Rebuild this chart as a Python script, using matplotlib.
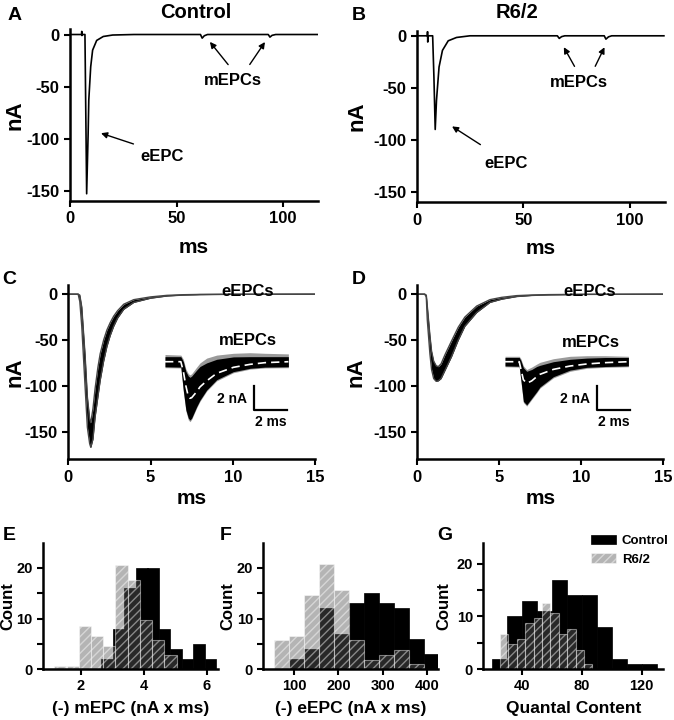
import matplotlib
matplotlib.use("Agg")
import matplotlib.pyplot as plt
from matplotlib.patches import Patch

plt.rcParams['font.family'] = ['Liberation Sans', 'DejaVu Sans']
plt.rcParams['font.weight'] = 'bold'
plt.rcParams['axes.labelweight'] = 'bold'
plt.rcParams['axes.unicode_minus'] = False
plt.rcParams['hatch.linewidth'] = 1.0

# A / B: single sweeps (ms, nA)
ctrl_sweep_t = [0, 5.4, 5.5, 5.6, 5.7, 7.0, 7.5, 7.8, 8.5, 8.8, 9.7, 10.6, 12.5, 15.6, 20, 30,
                61.2, 62.0, 63.0, 64.5, 93.0, 93.8, 94.8, 96.5, 116]
ctrl_sweep_i = [0, 0, 3, -1, 0, 0, -95, -153, -95, -63, -31, -15, -5.7, -1.9, -0.5, 0,
                0, -3.5, -1.2, 0, 0, -2.5, -0.8, 0, 0]
r62_sweep_t = [0, 5.0, 5.1, 5.2, 5.3, 7.5, 8.1, 8.7, 9.3, 10.5, 12.1, 14.8, 18.7, 25,
               66.0, 66.9, 68.0, 69.5, 88.0, 88.8, 90.0, 91.5, 116]
r62_sweep_i = [0, 0, 4, -6, 0, 0, -40, -90, -62, -30, -14, -4.8, -1.6, 0,
               0, -2.5, -0.8, 0, 0, -3.2, -1.0, 0, 0]

# C / D: overlaid eEPCs, envelope of the traces (ms, nA)
ctrl_eepc_t = [0, 0.6, 0.7, 0.82, 1.02, 1.16, 1.3, 1.37, 1.5, 1.63, 1.8, 1.94, 2.15, 2.35,
               2.55, 2.76, 3.0, 3.37, 3.98, 5.0, 6.0, 7.0, 8.0, 10.0, 15.0]
ctrl_eepc_lo = [0, 0, -8, -35, -100, -145, -163, -167, -158, -134, -112, -94, -73, -57,
                -45, -35, -26, -16.5, -9, -4.4, -2, -1, -0.5, -0.2, 0]
ctrl_eepc_hi = [0, 0, -1, -14, -66, -112, -136, -140, -125, -103, -80, -65, -50, -39,
                -31, -24, -18, -11, -6, -3.0, -1.3, -0.6, -0.3, -0.1, 0]
r62_eepc_t = [0, 0.45, 0.55, 0.61, 0.77, 0.87, 1.0, 1.15, 1.28, 1.45, 1.69, 2.09, 2.5, 2.9,
              3.62, 4.43, 5.14, 6.06, 7.0, 8.0, 10.0, 15.0]
r62_eepc_lo = [0, 0, -3, -28, -65, -82, -92, -95, -94.5, -92, -83, -68, -50, -35,
               -20, -9, -5.5, -2.6, -1.4, -0.8, -0.3, 0]
r62_eepc_hi = [0, 0, -1, -13, -45, -62, -73, -78, -79, -76, -66, -51, -36, -25,
               -13, -6, -3.5, -1.6, -0.9, -0.5, -0.2, 0]

# insets: overlaid mEPCs (ms, nA)
ctrl_mepc_t = [0, 0.95, 1.1, 1.25, 1.4, 1.5, 1.6, 1.9, 2.1, 2.5, 3.1, 4.1, 5.1, 6.0, 7.4]
ctrl_mepc_mean = [0, 0, -0.8, -2.0, -2.9, -3.05, -3.0, -2.5, -2.1, -1.6, -0.97, -0.47, -0.22, -0.08, 0]
ctrl_mepc_lo = [-0.42, -0.45, -2.4, -4.0, -4.7, -4.86, -4.7, -3.75, -3.2, -2.36, -1.5, -0.83, -0.55, -0.45, -0.42]
ctrl_mepc_hi = [0.42, 0.42, 0.0, -0.8, -1.2, -1.3, -1.2, -0.7, -0.4, -0.1, 0.2, 0.4, 0.42, 0.42, 0.42]
ctrl_mepc_glo = [-0.5, -0.52, -2.5, -4.1, -4.85, -5.0, -4.8, -3.85, -3.3, -2.45, -1.6, -0.92, -0.62, -0.52, -0.5]
ctrl_mepc_ghi = [0.6, 0.55, 0.2, -0.6, -1.0, -1.1, -1.0, -0.45, -0.1, 0.3, 0.55, 0.7, 0.75, 0.7, 0.65]

r62_mepc_t = [0, 0.85, 0.95, 1.1, 1.3, 1.6, 1.9, 2.1, 2.9, 3.9, 4.9, 6.0, 7.4]
r62_mepc_mean = [0, 0, -0.6, -1.5, -1.8, -1.6, -1.25, -1.05, -0.64, -0.36, -0.19, -0.08, 0]
r62_mepc_lo = [-0.35, -0.38, -1.5, -3.3, -3.6, -3.05, -2.5, -2.1, -1.25, -0.7, -0.47, -0.4, -0.35]
r62_mepc_hi = [0.35, 0.35, 0.1, -0.5, -0.8, -0.65, -0.4, -0.3, 0.0, 0.2, 0.3, 0.35, 0.35]
r62_mepc_glo = [-0.42, -0.45, -1.6, -3.4, -3.7, -3.15, -2.6, -2.2, -1.35, -0.8, -0.55, -0.47, -0.42]
r62_mepc_ghi = [0.45, 0.45, 0.25, -0.35, -0.65, -0.45, -0.2, -0.05, 0.25, 0.45, 0.5, 0.5, 0.45]

# E: mEPC charge histograms (bin left edge, count)
e_ctrl_left = [2.65, 3.02, 3.38, 3.75, 4.11, 4.47, 4.84, 5.20, 5.56, 5.93]
e_ctrl_count = [2, 8, 16, 20, 20, 8, 4, 2, 5, 2]
e_r62_left = [1.15, 1.54, 1.93, 2.32, 2.70, 3.09, 3.48, 3.87, 4.26, 4.65]
e_r62_count = [0.5, 0.5, 8.6, 6.6, 4.6, 20.6, 17.6, 9.7, 5.7, 2.7]

# F: eEPC charge histograms
f_left = [55, 88.8, 122.6, 156.4, 190.2, 224, 257.8, 291.6, 325.4, 359.2, 393]
f_ctrl_count = [0, 2, 4, 12, 7, 13, 15, 13, 12, 6, 3]
f_r62_count = [5.7, 6.6, 14.7, 20.7, 15.6, 5.8, 1.8, 2.7, 3.8, 0.9, 0]

# G: quantal content histograms
g_ctrl_left = [20, 30, 40, 50, 60, 70, 80, 90, 100, 110, 120]
g_ctrl_count = [2, 10, 13, 11, 17, 14, 14, 8, 2, 1, 1]
g_r62_left = [25.5, 31.1, 36.7, 42.3, 47.9, 53.5, 59.1, 64.7, 70.3, 75.9, 81.5]
g_r62_count = [6.6, 4.7, 5.7, 8.7, 9.7, 12.6, 10.7, 6.7, 7.7, 3.7, 0.9]

R62_STYLE = dict(facecolor='#595959', edgecolor='white', hatch='////', alpha=0.45, linewidth=0.8)
CTRL_STYLE = dict(facecolor='black', edgecolor='black', linewidth=0.5)


def style_axes(ax, fs):
    for s in ['top', 'right']:
        ax.spines[s].set_visible(False)
    for s in ['left', 'bottom']:
        ax.spines[s].set_linewidth(1.8)
    ax.tick_params(direction='out', length=4, width=1.5, labelsize=fs)
    for lab in ax.get_xticklabels() + ax.get_yticklabels():
        lab.set_fontweight('bold')


def sweep_panel(fig, rect, t, i, ylab_x):
    ax = fig.add_axes(rect)
    ax.plot(t, i, color='black', lw=1.2)
    ax.set_xlim(0, 116.5)
    ax.set_ylim(-160, 5)
    ax.set_xticks([0, 50, 100])
    ax.set_yticks([0, -50, -100, -150])
    style_axes(ax, 12)
    ax.set_ylabel('nA', fontsize=16)
    ax.yaxis.set_label_coords(ylab_x, 0.5)
    ax.set_xlabel('ms', fontsize=15)
    ax.xaxis.set_label_coords(0.5, -0.215)
    return ax


def overlay_panel(fig, rect, t, lo, hi, ylab_x):
    ax = fig.add_axes(rect)
    ax.fill_between(t, lo, hi, color='black', lw=0)
    ax.plot(t, lo, color='#444444', lw=1.0)
    ax.plot(t, hi, color='#444444', lw=1.0)
    ax.set_xlim(0, 15)
    ax.set_ylim(-180, 10)
    ax.set_xticks([0, 5, 10, 15])
    ax.set_yticks([0, -50, -100, -150])
    style_axes(ax, 12)
    ax.set_ylabel('nA', fontsize=16)
    ax.yaxis.set_label_coords(ylab_x, 0.5)
    ax.set_xlabel('ms', fontsize=15)
    ax.xaxis.set_label_coords(0.5, -0.17)
    return ax


def mepc_inset(fig, rect, t, mean, lo, hi, glo, ghi, bar_x):
    ax = fig.add_axes(rect)
    ax.fill_between(t, glo, ghi, color='#9a9a9a', lw=0)
    ax.fill_between(t, lo, hi, color='black', lw=0)
    ax.plot(t, mean, color='white', lw=1.2, dashes=(5, 3))
    ax.plot([bar_x, bar_x, bar_x + 2], [-2, -4, -4], color='black', lw=1.6)
    ax.text(bar_x - 0.4, -3.1, '2 nA', ha='right', va='center', fontsize=10)
    ax.text(bar_x + 1.0, -4.4, '2 ms', ha='center', va='top', fontsize=10)
    ax.set_xlim(0, 7.6)
    ax.set_ylim(-5.6, 1.0)
    ax.axis('off')
    return ax


def hist_panel(fig, rect, ctrl_left, ctrl_w, ctrl_count, r_left, r_w, r_count, xlim, ylim, xticks, xlab):
    ax = fig.add_axes(rect)
    ax.bar(ctrl_left, ctrl_count, width=ctrl_w, align='edge', **CTRL_STYLE)
    ax.bar(r_left, r_count, width=r_w, align='edge', **R62_STYLE)
    ax.set_xlim(*xlim)
    ax.set_ylim(*ylim)
    ax.set_xticks(xticks)
    ax.set_yticks([0, 10, 20])
    ax.set_yticks([5, 15], minor=True)
    style_axes(ax, 10.5)
    ax.tick_params(which='minor', direction='out', length=4, width=1.5)
    ax.set_ylabel('Count', fontsize=12)
    ax.set_xlabel(xlab, fontsize=12.5)
    ax.xaxis.set_label_coords(0.5, -0.25)
    return ax


def plot():
    fig = plt.figure(figsize=(6.74, 7.2), dpi=100)

    # A / B
    axA = sweep_panel(fig, [0.1039, 0.7208, 0.3684, 0.2385], ctrl_sweep_t, ctrl_sweep_i, -0.18)
    axB = sweep_panel(fig, [0.6182, 0.7190, 0.3684, 0.2385], r62_sweep_t, r62_sweep_i, -0.20)
    axA.annotate('', xy=(13.3, -94), xytext=(31, -106),
                 arrowprops=dict(arrowstyle='-|>', color='black', lw=1.0, mutation_scale=9))
    axA.text(43, -117, 'eEPC', ha='center', va='center', fontsize=12)
    axA.text(76.6, -44, 'mEPCs', ha='center', va='center', fontsize=12)
    for head, tail in [((64.8, -5), (75, -31)), ((92.2, -5), (83.6, -31))]:
        axA.annotate('', xy=head, xytext=tail,
                     arrowprops=dict(arrowstyle='-|>', color='black', lw=1.0, mutation_scale=9))
    axB.annotate('', xy=(15.5, -85.6), xytext=(31, -106),
                 arrowprops=dict(arrowstyle='-|>', color='black', lw=1.0, mutation_scale=9))
    axB.text(42, -122.7, 'eEPC', ha='center', va='center', fontsize=12)
    axB.text(76.2, -44.4, 'mEPCs', ha='center', va='center', fontsize=12)
    for head, tail in [((68.4, -8.6), (74.7, -31.7)), ((88.7, -8.6), (83.2, -31.7))]:
        axB.annotate('', xy=head, xytext=tail,
                     arrowprops=dict(arrowstyle='-|>', color='black', lw=1.0, mutation_scale=9))
    fig.text(0.291, 0.983, 'Control', ha='center', va='center', fontsize=14.5)
    fig.text(0.767, 0.983, 'R6/2', ha='center', va='center', fontsize=14.5)

    # C / D
    axC = overlay_panel(fig, [0.1013, 0.3621, 0.3660, 0.2421], ctrl_eepc_t, ctrl_eepc_lo, ctrl_eepc_hi, -0.175)
    axD = overlay_panel(fig, [0.6191, 0.3621, 0.3650, 0.2421], r62_eepc_t, r62_eepc_lo, r62_eepc_hi, -0.205)
    axC.text(10.9, 3, 'eEPCs', ha='center', va='center', fontsize=12)
    axC.text(10.9, -50.5, 'mEPCs', ha='center', va='center', fontsize=12)
    axD.text(10.5, 3, 'eEPCs', ha='center', va='center', fontsize=12)
    axD.text(10.6, -53, 'mEPCs', ha='center', va='center', fontsize=12)
    mepc_inset(fig, [0.2448, 0.4043, 0.188, 0.11], ctrl_mepc_t, ctrl_mepc_mean, ctrl_mepc_lo,
               ctrl_mepc_hi, ctrl_mepc_glo, ctrl_mepc_ghi, 5.34)
    mepc_inset(fig, [0.7493, 0.4043, 0.188, 0.11], r62_mepc_t, r62_mepc_mean, r62_mepc_lo,
               r62_mepc_hi, r62_mepc_glo, r62_mepc_ghi, 5.5)

    # E / F / G
    axE = hist_panel(fig, [0.0642, 0.0708, 0.2596, 0.1754], e_ctrl_left, 0.364, e_ctrl_count,
                     e_r62_left, 0.388, e_r62_count, (0.8, 6.36), (0, 25), [2, 4, 6],
                     '(-) mEPC (nA x ms)')
    axF = hist_panel(fig, [0.3907, 0.0708, 0.2596, 0.1754], f_left, 33.8, f_ctrl_count,
                     f_left, 33.8, f_r62_count, (30, 426), (0, 25), [100, 200, 300, 400],
                     '(-) eEPC (nA x ms)')
    axG = hist_panel(fig, [0.7171, 0.0708, 0.2670, 0.1754], g_ctrl_left, 10, g_ctrl_count,
                     g_r62_left, 5.6, g_r62_count, (14.4, 134.4), (0, 24), [40, 80, 120],
                     'Quantal Content')
    for ax in [axE, axF]:
        ax.yaxis.set_label_coords(-0.16, 0.5)
    axG.yaxis.set_label_coords(-0.175, 0.5)
    axG.legend(handles=[Patch(**CTRL_STYLE), Patch(**R62_STYLE)], labels=['Control', 'R6/2'],
               loc='upper left', bbox_to_anchor=(0.60, 1.06), frameon=False, fontsize=9.5,
               handlelength=1.9, handleheight=0.7, handletextpad=0.4, labelspacing=0.45,
               borderpad=0, borderaxespad=0)

    for letter, x, y in [('A', 0.011, 0.99), ('B', 0.522, 0.99), ('C', 0.004, 0.624),
                         ('D', 0.522, 0.624), ('E', 0.004, 0.268), ('F', 0.326, 0.268),
                         ('G', 0.648, 0.268)]:
        fig.text(x, y, letter, ha='left', va='top', fontsize=14)

    fig.savefig('out.png', dpi=100)


def main():
    plot()


if __name__ == "__main__":
    main()
